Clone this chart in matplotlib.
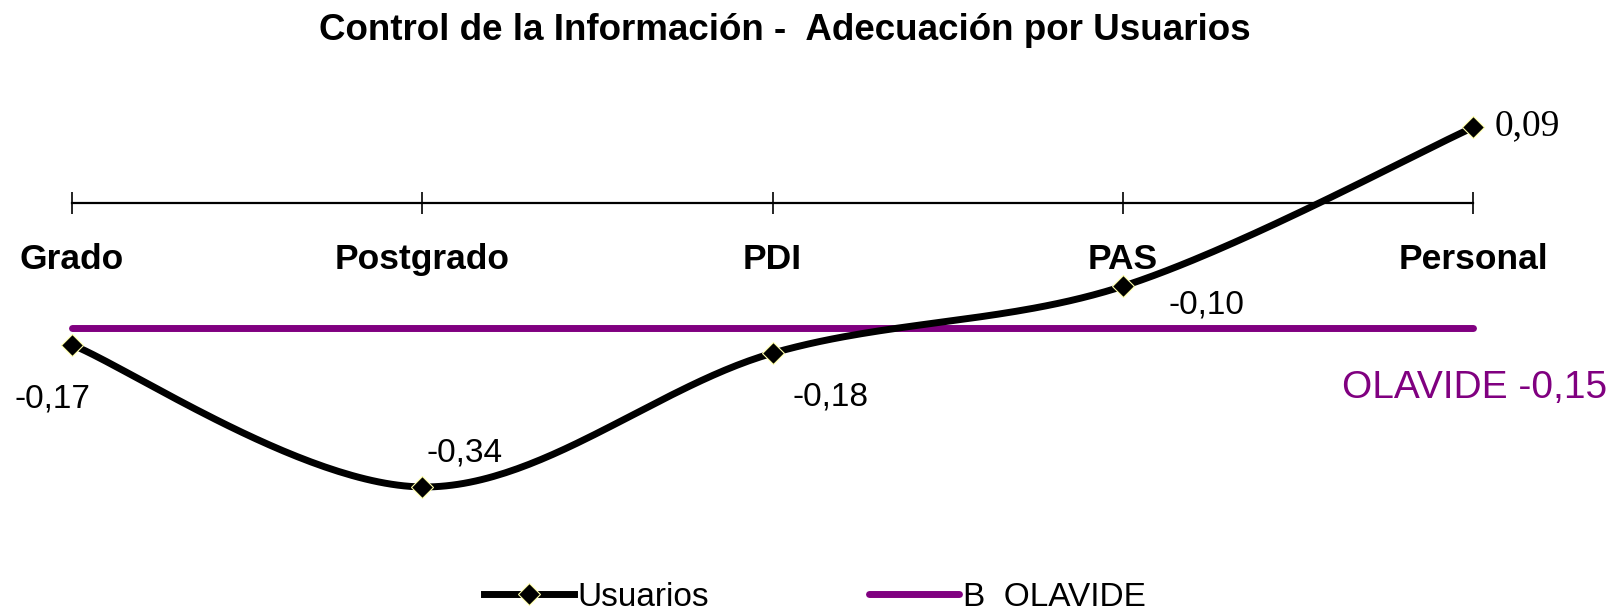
import numpy as np
import matplotlib
matplotlib.use("Agg")
import matplotlib.pyplot as plt

# datos
categorias = ["Grado", "Postgrado", "PDI", "PAS", "Personal"]
usuarios = [-0.17, -0.34, -0.18, -0.10, 0.09]
etiquetas = ["-0,17", "-0,34", "-0,18", "-0,10", "0,09"]
olavide = -0.15
etiqueta_olavide = "OLAVIDE -0,15"
titulo = "Control de la Información -  Adecuación por Usuarios"

NEGRO = "#000000"
MORADO = "#800080"
FUENTE = "Liberation Sans"

fig = plt.figure(figsize=(16.13, 6.14), dpi=100)
# eje: 0 en y~202px, 836 px por unidad; Grado en x=72px, paso 350px
ax = fig.add_axes([0, 1 - 560 / 614, 1, 460 / 614])
ax.set_xlim(-72 / 350.25, (1613 - 72) / 350.25)
ax.set_ylim((202.7 - 560) / 836, (202.7 - 100) / 836)

x = np.arange(len(categorias))
y = np.array(usuarios)

# curva suavizada estilo Excel (Bezier con puntos de control a 1/6)
px = np.concatenate([[x[0]], x, [x[-1]]])
py = np.concatenate([[y[0]], y, [y[-1]]])
t = np.linspace(0, 1, 60)[:, None]
cx, cy = [], []
for i in range(1, len(px) - 2):
    p0 = np.array([px[i], py[i]])
    p3 = np.array([px[i + 1], py[i + 1]])
    p1 = p0 + (np.array([px[i + 1], py[i + 1]]) - np.array([px[i - 1], py[i - 1]])) / 6
    p2 = p3 - (np.array([px[i + 2], py[i + 2]]) - np.array([px[i], py[i]])) / 6
    seg = (1 - t) ** 3 * p0 + 3 * (1 - t) ** 2 * t * p1 + 3 * (1 - t) * t ** 2 * p2 + t ** 3 * p3
    cx.extend(seg[:, 0])
    cy.extend(seg[:, 1])

linea_olavide, = ax.plot([x[0], x[-1]], [olavide, olavide], color=MORADO, lw=5,
                         solid_capstyle="round", label="B  OLAVIDE", zorder=2)
ax.plot(cx, cy, color=NEGRO, lw=5, zorder=3)
ax.plot(x, y, linestyle="none", marker="D", markersize=11.5, markerfacecolor=NEGRO,
        markeredgecolor="#FFFFAA", markeredgewidth=0.8, zorder=4)
# entrada de leyenda
linea_usuarios, = ax.plot([], [], color=NEGRO, lw=5, marker="D", markersize=11.5,
                          markerfacecolor=NEGRO, markeredgecolor="#FFFFAA",
                          markeredgewidth=0.8, label="Usuarios")

# eje x en y=0
for s in ["top", "right", "left"]:
    ax.spines[s].set_visible(False)
ax.spines["bottom"].set_position(("data", 0))
ax.spines["bottom"].set_bounds(0, 4)
ax.spines["bottom"].set_linewidth(1.6)
ax.set_yticks([])
ax.set_xticks(x)
ax.set_xticklabels(categorias, fontsize=25.5, fontweight="bold", family=FUENTE)
ax.tick_params(axis="x", direction="inout", length=16, width=1.2, pad=21)
ax.set_facecolor("white")

# etiquetas de datos
desplaz = [(-20, -54), (42, 34), (58, -44), (84, -19)]
for i in range(4):
    ax.annotate(etiquetas[i], (x[i], y[i]), xytext=desplaz[i], textcoords="offset pixels",
                ha="center", va="center", fontsize=24, family=FUENTE)
ax.annotate(etiquetas[4], (x[4], y[4]), xytext=(22, 2), textcoords="offset pixels",
            ha="left", va="center", fontsize=27, family="Liberation Serif")
ax.annotate(etiqueta_olavide, (x[4], olavide), xytext=(2, -60), textcoords="offset pixels",
            ha="center", va="center", fontsize=28, family=FUENTE, color=MORADO)

fig.text(785 / 1613, 1 - 31 / 614, titulo, ha="center", va="center",
         fontsize=26.5, fontweight="bold", family=FUENTE)

ax.legend(handles=[linea_usuarios, linea_olavide],
          loc="center", bbox_to_anchor=(815 / 1613, 1 - 597 / 614),
          bbox_transform=fig.transFigure, ncol=2, frameon=False,
          handlelength=2.7, columnspacing=4.8, handletextpad=0.1,
          prop={"family": FUENTE, "size": 24})

fig.savefig("out.png", dpi=100, facecolor="white")
